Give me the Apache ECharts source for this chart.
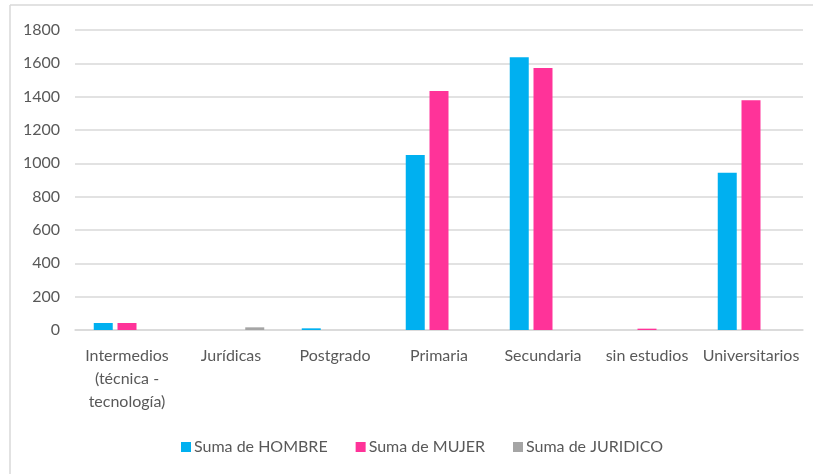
<!DOCTYPE html>
<html>
<head>
<meta charset="utf-8">
<script src="https://cdn.jsdelivr.net/npm/echarts@6/dist/echarts.min.js"></script>
<style>
  html, body { margin: 0; padding: 0; background: #fff; }
  #chart { width: 814px; height: 474px; }
</style>
</head>
<body>
<div id="chart"></div>
<script>
// categorías del eje X
const categorias = ['Intermedios\n(técnica -\ntecnología)', 'Jurídicas', 'Postgrado', 'Primaria', 'Secundaria', 'sin estudios', 'Universitarios']
// series
const sumaHombre = [42, 0, 10, 1050, 1636, 0, 944]
const sumaMujer = [42, 0, 0, 1434, 1572, 8, 1378]
const sumaJuridico = [0, 16, 0, 0, 0, 0, 0]

const fuente = 'Lato'
const gris = '#595959'

const chart = echarts.init(document.getElementById('chart'))

let options = {
  animation: false,
  textStyle: { fontFamily: fuente },
  graphic: [
    // marco del gráfico (solo izquierda y arriba visibles)
    { type: 'line', shape: { x1: 10, y1: 5, x2: 813, y2: 5 }, style: { stroke: '#d9d9d9', lineWidth: 1.5 } },
    { type: 'line', shape: { x1: 10, y1: 5, x2: 10, y2: 474 }, style: { stroke: '#d9d9d9', lineWidth: 1.5 } }
  ],
  grid: { left: 75, right: 11, top: 30, bottom: 144, containLabel: false },
  legend: {
    bottom: 14,
    left: 176,
    itemWidth: 10,
    itemHeight: 10,
    itemGap: 28,
    icon: 'rect',
    textStyle: { color: gris, fontSize: 16, fontFamily: fuente, padding: [0, 0, 0, -2] },
    data: ['Suma de HOMBRE', 'Suma de MUJER', 'Suma de JURIDICO']
  },
  xAxis: {
    type: 'category',
    data: categorias,
    axisLine: { lineStyle: { color: '#d9d9d9', width: 1.5 } },
    axisTick: { show: false },
    axisLabel: { color: gris, fontSize: 16, lineHeight: 23, margin: 14, interval: 0, fontFamily: fuente }
  },
  yAxis: {
    type: 'value',
    min: 0,
    max: 1800,
    interval: 200,
    axisLine: { show: false },
    axisTick: { show: false },
    axisLabel: { color: gris, fontSize: 16, margin: 15, fontFamily: fuente, formatter: function (v) { return String(v) } },
    splitLine: { lineStyle: { color: '#d9d9d9', width: 1.5 } }
  },
  series: [
    { name: 'Suma de HOMBRE', type: 'bar', data: sumaHombre, barWidth: 19, barGap: '25%', itemStyle: { color: '#00b0f0' } },
    { name: 'Suma de MUJER', type: 'bar', data: sumaMujer, barWidth: 19, barGap: '25%', itemStyle: { color: '#ff3399' } },
    { name: 'Suma de JURIDICO', type: 'bar', data: sumaJuridico, barWidth: 19, barGap: '25%', itemStyle: { color: '#a5a5a5' } }
  ]
}

chart.setOption(options)
window.addEventListener('resize', function () {
  chart.resize()
})
</script>
</body>
</html>
